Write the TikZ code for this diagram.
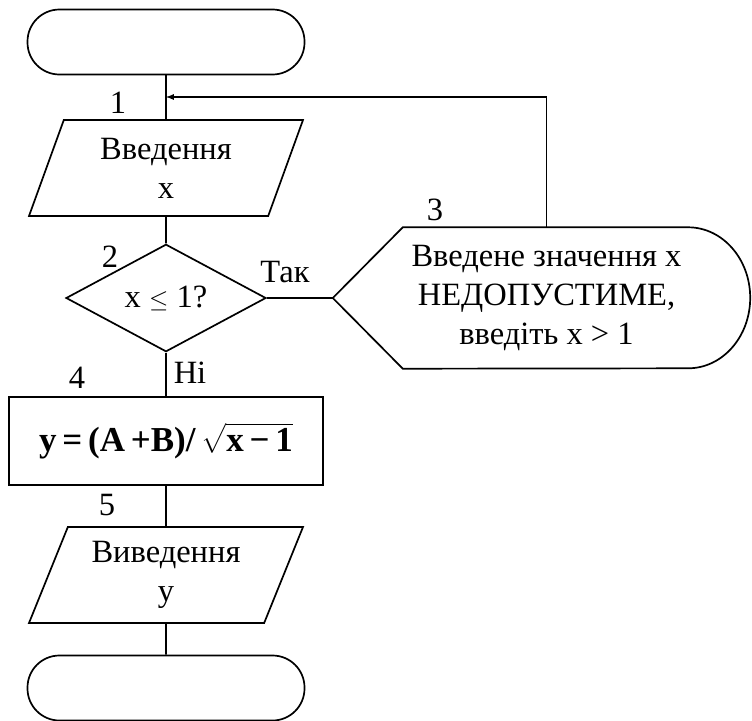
\documentclass[tikz,border=0pt]{standalone}
\usepackage{amsmath}
\usepackage{fontspec}
\setmainfont{Liberation Serif}
\usetikzlibrary{shapes.geometric, arrows}
\tikzstyle{terminal} = [rectangle, rounded corners=32pt, minimum
    width=277pt, minimum height=65pt, draw=black, line width=1.7pt]
\tikzstyle{io} = [trapezium, trapezium left angle=60, trapezium right
    angle=120, trapezium stretches body=true, minimum width=274pt,
    minimum height=96pt, inner sep=0pt, align=center, draw=black,
    line width=1.7pt]
\tikzstyle{decision} = [diamond, minimum width=200pt, minimum
    height=100pt, inner sep=0pt, align=center, draw=black, line width=1.7pt]
\tikzstyle{process} = [rectangle, minimum width=314pt, minimum
    height=88pt, inner sep=0pt, draw=black, line width=1.7pt,
    font=\fontsize{35}{40}\selectfont]
\tikzstyle{display} = [rectangle, minimum width=417pt, minimum
    height=141pt, inner sep=0pt, align=center]
\tikzstyle{num} = [draw=none, inner sep=0pt]
\tikzstyle{line} = [line width=1.7pt]
\tikzstyle{arrow} = [line, ->, >=latex]

\begin{document}
\begin{tikzpicture}[x=1pt, y=1pt, node distance=130pt,
    font=\fontsize{32.5}{39}\selectfont]
            \useasboundingbox (0,0) rectangle (752,-720);
            % Blocks
            \node[terminal] (start) at (166,-42) {};
            \node[io, below of=start, yshift=4pt] (in1) {Введення\\x};
            \node[decision, below of=in1] (dec) {x $\leq$ 1?};
            \node[process, below of=dec, yshift=-13pt] (proc)
            {\bfseries y\,=\,(A\,+B)/\,$\sqrt{\hbox{\bfseries x\,−\,1}}$};
            \node[io, below of=proc, yshift=-4pt] (out) {Виведення\\y};
            \node[terminal, below of=out, yshift=17pt] (end) {};
            \node[display, right of=dec, xshift=245.5pt] (warn)
            {\hspace*{10pt}Введене значення x\\\hspace*{10pt}НЕДОПУСТИМЕ,\\
            \hspace*{10pt}введіть x > 1};
            \draw[line] (warn.west) -- ([xshift=70pt]warn.north west)
            -- ([xshift=-62pt]warn.north east) arc[start angle=90,
            end angle=-90, x radius=62pt, y radius=70.5pt]
            -- ([xshift=70pt]warn.south west) -- cycle;
            % Numbers and branch labels
            \node[num, above of=in1, xshift=-48pt, yshift=-65pt] (n1) {1};
            \node[num, above of=dec, xshift=-56pt, yshift=-89pt] (n2) {2};
            \node[num, above of=warn, xshift=-106.5pt, yshift=-42pt] (n3) {3};
            \node[num, above of=proc, xshift=-89pt, yshift=-67pt] (n4) {4};
            \node[num, above of=out, xshift=-59pt, yshift=-60pt] (n5) {5};
            \node[num, right of=dec, xshift=-11pt, yshift=26pt] (yes) {Так};
            \node[num, below of=dec, xshift=24pt, yshift=55pt] (no) {Ні};
            % Arrows
            \coordinate (join) at (166,-97);
            \draw[line] (start) -- (in1);
            \draw[line] (in1) -- (dec);
            \draw[line] (dec) -- (proc);
            \draw[line] (proc) -- (out);
            \draw[line] (out) -- (end);
            \draw[line] (dec.east) -- (warn.west);
            \draw[arrow] ([xshift=5pt]warn.north) |- (join);
        \end{tikzpicture}
\end{document}
